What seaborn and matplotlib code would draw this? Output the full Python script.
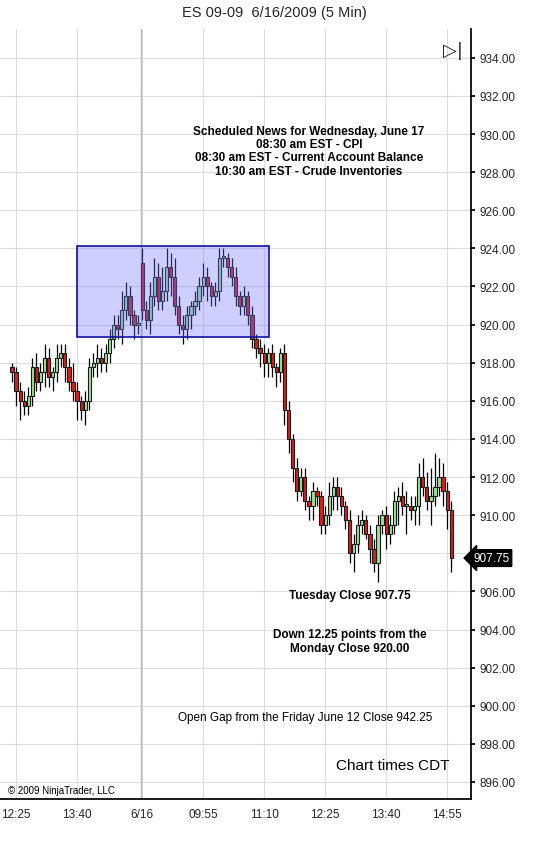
import matplotlib
matplotlib.use("Agg")
import matplotlib.pyplot as plt
import seaborn as sns
import numpy as np
from matplotlib.patches import Rectangle

closes = [917.5,916.5,916,915.75,916.25,917.75,917,917.5,918.25,917.25,917.5,918.25,918.5,917.75,917,916.5,
          916,915.5,916,917.75,918,918.25,918,918.5,919.25,920,919.75,920.75,921.5,920.5,920,920,
          920.75,920.25,921.5,922.5,921.25,921.75,923,922.5,921,920,919.75,920.5,921,921.25,922,922.5,
          922,921.5,921.75,923.5,923.5,923,922.5,921.5,921,921.5,920.5,919.25,918.75,918.5,918,918.5,
          917.75,917.5,918.5,915.5,914,912.5,911.25,912,910.75,910.5,911.25,911,909.5,910,911,911.5,
          911,910.5,909.75,908,908.5,909.5,909.75,909,908.25,907.5,909.5,910,909,909.5,910.75,911,
          910.5,910.5,910.25,910.5,912,911.5,910.75,911,911.5,912,911.25,910.25,907.75]
first_open = 917.75
gap_opens = {32: 923.25}
upper_wick = [0.25,0.25,0.5,0.5,0.5,0.5,0.75,0.5,0.75,0.5,0.25,0.75,0.5,0.5,0.5,1.0,
              0.5,0.25,0.5,0.5,0.5,0.75,0.5,0.5,0.5,0.5,0.5,1.0,0.75,0.5,0.25,0.5,
              0.75,0.5,0.75,1.0,0.75,1.25,1.0,0.75,1.0,0.5,0.5,0.5,0.25,0.5,0.5,0.75,
              0.5,0.25,0.5,0.5,0.5,0.25,0.5,0.5,0.25,0.5,0.25,0.5,0.25,0.5,0.5,0.25,
              0.5,0.25,0.25,0.5,0.5,0.25,0.5,0.5,0.5,0.25,0.5,0.25,0.25,0.5,0.75,0.5,
              0.5,0.5,0.25,0.5,0.5,0.5,0.5,0.25,0.5,0.5,0.5,0.25,0.5,0.5,0.5,0.5,
              0.75,0.75,0.5,0.5,0.75,1.0,0.75,1.5,1.75,1.0,0.75,0.5,0.5]
lower_wick = [0.5,0.75,1.0,0.5,0.5,0.5,0.5,0.5,0.75,0.5,0.75,0.5,0.5,0.75,0.5,0.5,
              1.0,0.5,0.75,0.5,0.5,0.75,0.5,0.5,0.5,0.5,0.5,0.75,0.5,0.5,0.75,0.5,
              0.5,0.5,0.75,0.5,0.5,0.5,0.5,1.0,0.5,0.5,0.75,0.5,0.75,0.5,0.5,0.5,
              0.75,0.5,0.5,0.5,0.5,0.5,0.5,0.5,0.5,0.5,0.5,0.5,0.5,0.75,0.75,0.75,
              0.5,0.75,0.5,0.75,0.75,0.75,0.5,0.25,0.5,0.75,0.75,0.5,0.5,0.5,0.5,0.75,
              0.75,0.5,0.5,0.5,1.0,0.5,0.5,0.25,0.75,0.5,1.0,0.5,0.75,0.5,0.5,1.25,
              0.5,1.5,0.5,0.75,1.0,0.5,0.5,1.25,0.5,0.5,0.75,1.0,0.75]
tick_idx = [1, 16, 32, 47, 62, 77, 92, 107]
tick_labels = ["12:25", "13:40", "6/16", "09:55", "11:10", "12:25", "13:40", "14:55"]
price_ticks = list(np.arange(896, 935, 2))
box_x = [16, 63.1]
box_y = [919.35, 924.1]
last_price = 907.75

sns.set_theme(style="white")
plt.rcParams['font.family'] = ['Liberation Sans', 'DejaVu Sans']

opens = [first_open] + closes[:-1]
for k, v in gap_opens.items():
    opens[k] = v
idx = np.arange(len(closes))
opens = np.array(opens); closes_a = np.array(closes)
highs = np.maximum(opens, closes_a) + np.array(upper_wick)
lows = np.minimum(opens, closes_a) - np.array(lower_wick)

fig = plt.figure(figsize=(5.48, 8.53), dpi=100)
ax = fig.add_axes([0.0, 0.062, 0.859, 0.903])
ax.set_xlim(-2.95, 112.8)
ax.set_ylim(895.1, 935.52)

for p in price_ticks:
    ax.axhline(p, color="#dcdcdc", lw=0.8, zorder=0)
for t in tick_idx:
    ax.axvline(t, color="#dcdcdc", lw=0.8, zorder=0)
ax.axvline(31.8, color="#b8b8b8", lw=1.0, zorder=0)

up = closes_a >= opens
ax.vlines(idx, lows, highs, color="black", lw=0.9, zorder=2)
body = np.abs(closes_a - opens)
body = np.where(body < 0.08, 0.08, body)
ax.bar(idx[up], body[up], bottom=opens[up], width=0.8, color="#98e698", edgecolor="#1a1a1a", lw=0.8, zorder=3)
ax.bar(idx[~up], body[~up], bottom=closes_a[~up], width=0.8, color="#d81e1e", edgecolor="#1a1a1a", lw=0.8, zorder=3)

ax.add_patch(Rectangle((box_x[0], box_y[0]), box_x[1]-box_x[0], box_y[1]-box_y[0],
                       facecolor=(0.45, 0.45, 1.0, 0.35), edgecolor="#1010a0", lw=1.2, zorder=4))

ax.yaxis.tick_right()
ax.set_yticks(price_ticks)
ax.set_yticklabels(["" if p == 908 else f"{p:.2f}" for p in price_ticks], fontsize=8.5)
ax.set_xticks(tick_idx)
ax.set_xticklabels(tick_labels, fontsize=8.5)
ax.tick_params(axis="both", length=3, color="black", direction="out")
for s in ["top", "left"]:
    ax.spines[s].set_visible(False)
ax.spines["right"].set_color("black")
ax.spines["bottom"].set_color("black")

fig.text(0.5, 0.985, "ES 09-09  6/16/2009 (5 Min)", ha="center", va="center", fontsize=10.5)
ax.text(73, 930.5, "Scheduled News for Wednesday, June 17\n08:30 am EST - CPI\n08:30 am EST - Current Account Balance\n10:30 am EST - Crude Inventories",
        ha="center", va="top", fontsize=8.5, fontweight="bold", linespacing=1.15, color="black")
ax.text(83, 905.8, "Tuesday Close 907.75", ha="center", va="center", fontsize=8.5, fontweight="bold", color="black")
ax.text(83, 903.4, "Down 12.25 points from the\nMonday Close 920.00", ha="center", va="center", fontsize=8.5, fontweight="bold", color="black", linespacing=1.15)
ax.text(72, 899.4, "Open Gap from the Friday June 12 Close 942.25", ha="center", va="center", fontsize=8.5, color="black")
ax.text(107.5, 896.9, "Chart times CDT", ha="right", va="center", fontsize=11, color="black")
ax.text(-1.0, 895.6, "© 2009 NinjaTrader, LLC", ha="left", va="center", fontsize=7, color="black")
ax.text(108.5, 934.4, "▷|", ha="center", va="center", fontsize=13, family=["DejaVu Sans"])
ax.text(1.005, (last_price - 895.1) / (935.52 - 895.1), f"{last_price:.2f}", transform=ax.transAxes,
        ha="left", va="center", fontsize=8.5, color="white",
        bbox=dict(boxstyle="larrow,pad=0.2", fc="black", ec="black"))

fig.savefig("out.png", dpi=100)
